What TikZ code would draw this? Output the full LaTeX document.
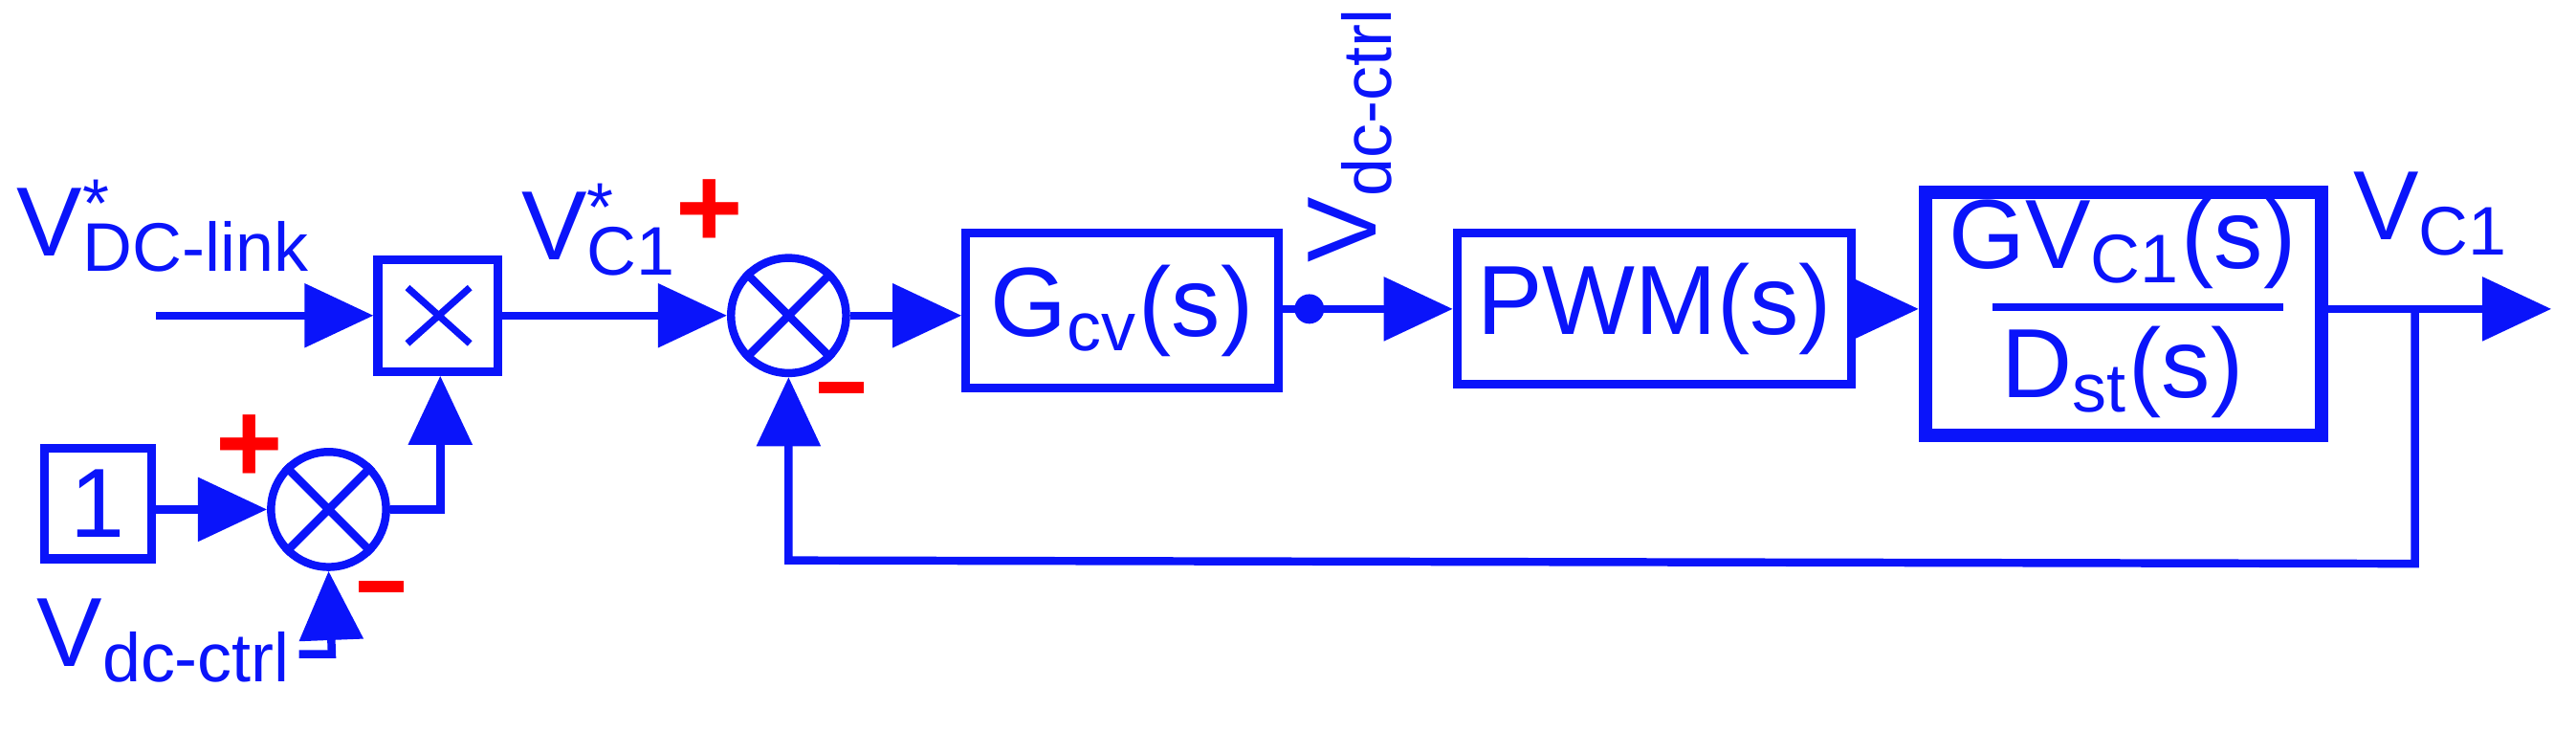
\documentclass[tikz,border=0pt]{standalone}
\usepackage{fontspec}
\setmainfont{Liberation Sans}
\usetikzlibrary{arrows.meta}
\definecolor{bl}{RGB}{10,20,250}
\begin{document}
\begin{tikzpicture}[x=0.01cm,y=-0.01cm,
  line width=1.4pt, draw=bl, color=bl,
  arr/.style={-{Triangle[length=0.42cm,width=0.38cm]}},
  blk/.style={draw, rectangle, inner sep=0, line width=1.5pt},
  sumn/.style={draw, circle, minimum size=0.7cm, inner sep=0},
  txt/.style={text=bl, font=\fontsize{17}{19}\selectfont, inner sep=0},
  sgn/.style={text=red, font=\fontsize{20}{22}\selectfont\bfseries, inner sep=0}]
\useasboundingbox (0,0) rectangle (1568,445);
% blocks
\node[blk, minimum width=0.73cm, minimum height=0.68cm] (mul) at (266.5,192) {};
\draw[line width=1.2pt] (248,175) -- (286,209) (248,209) -- (286,175);
\node[sumn] (s1) at (480,192) {};
\draw (s1.45) -- (s1.225) (s1.135) -- (s1.315);
\node[sumn] (s2) at (200,310) {};
\draw (s2.45) -- (s2.225) (s2.135) -- (s2.315);
\node[blk, minimum width=0.65cm, minimum height=0.67cm, txt] (one) at (59.5,306.5) {1};
\node[blk, minimum width=1.9cm, minimum height=0.94cm, txt] (gcv) at (683,189) {G\textsubscript{cv}(s)};
\node[blk, minimum width=2.4cm, minimum height=0.92cm, txt] (pwm) at (1007,188) {PWM(s)};
\node[blk, line width=2.3pt, minimum width=2.41cm, minimum height=1.48cm] (gv) at (1292.5,191) {};
\node[txt, anchor=south] at (1292,178) {GV\textsubscript{C1}(s)};
\draw (1213,187) -- (1390,187);
\node[txt, anchor=north] at (1292,196) {D\textsubscript{st}(s)};
% coordinates
\coordinate (in1) at (95,192);
\coordinate (dot) at (797,188);
\coordinate (out) at (1553,188);
\coordinate (fb) at (1470,188);
\coordinate (vin) at (182,398);
\coordinate (c268) at (268,310);
% connectors
\draw[arr] (in1) -- (mul.west);
\draw[arr] (mul.east) -- (s1.west);
\draw[arr] (s1.east) -- (gcv.west |- s1.east);
\draw[arr] (gcv.east |- dot) -- (pwm.west);
\fill (dot) circle (9);
\draw[arr] (pwm.east) -- (gv.west |- pwm.east);
\draw[arr] (gv.east |- out) -- (out);
\draw[arr] (fb) -- (1470,343) -- (480,341) -- (s1.south);
\draw[arr] (one.east |- s2.west) -- (s2.west);
\draw[arr] (s2.east) -- (c268) -- (c268 |- mul.south);
\draw[arr] (vin) -- (202,398) -- (s2.south);
% labels
\node[txt, anchor=south west] at (8,168) {V\rlap{\textsuperscript{\raisebox{-0.2ex}{*}}}\textsubscript{DC-link}};
\node[txt, anchor=south west] at (315,170) {V\rlap{\textsuperscript{\raisebox{-0.2ex}{*}}}\textsubscript{C1}};
\node[txt, anchor=south west] at (1430,158) {V\textsubscript{C1}};
\node[txt, anchor=north west] at (20,362) {V\textsubscript{dc-ctrl}};
\node[txt, anchor=south west, rotate=90] at (850,162) {V\textsubscript{dc-ctrl}};
\node[sgn] at (432,130) {+};
\node[sgn] at (512,236) {\rule{0.27cm}{0.07cm}};
\node[sgn] at (152,273) {+};
\node[sgn] at (232,357) {\rule{0.27cm}{0.07cm}};
\end{tikzpicture}
\end{document}
